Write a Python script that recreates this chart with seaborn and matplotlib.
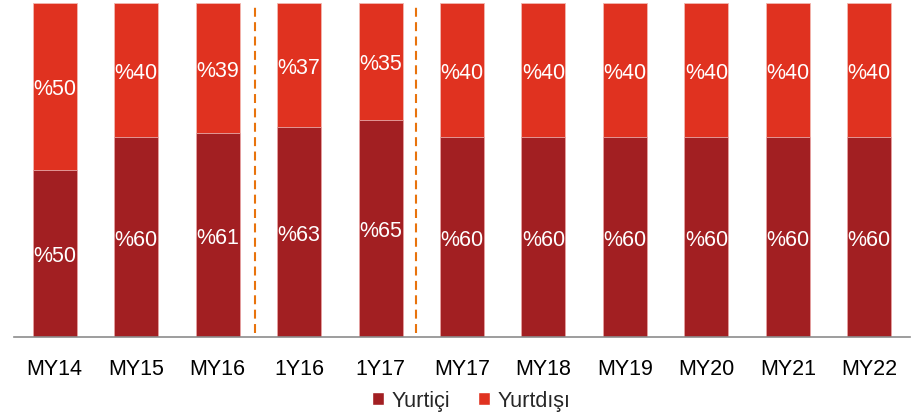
import matplotlib
matplotlib.use("Agg")
import matplotlib.pyplot as plt
from matplotlib.patches import Patch
from matplotlib.ticker import FixedLocator
import seaborn as sns
import pandas as pd

categories = ["MY14", "MY15", "MY16", "1Y16", "1Y17", "MY17", "MY18", "MY19", "MY20", "MY21", "MY22"]
yurtici = [50, 60, 61, 63, 65, 60, 60, 60, 60, 60, 60]
yurtdisi = [50, 40, 39, 37, 35, 40, 40, 40, 40, 40, 40]
series_names = ["Yurtiçi", "Yurtdışı"]

sns.set_theme(style="white")
plt.rcParams["font.family"] = ["Liberation Sans", "DejaVu Sans"]

dark_red = "#A21F22"
bright_red = "#E03220"

df = pd.DataFrame({"kategori": categories, "yurtici": yurtici, "yurtdisi": yurtdisi})
df["toplam"] = df["yurtici"] + df["yurtdisi"]

fig = plt.figure(figsize=(9.17, 4.14), dpi=100)
ax = fig.add_axes([14 / 917, 76 / 414, 896 / 917, 334 / 414])

sns.barplot(data=df, x="kategori", y="toplam", color=bright_red, saturation=1,
            width=0.54, edgecolor="#F2B8B0", linewidth=0.6, ax=ax)
sns.barplot(data=df, x="kategori", y="yurtici", color=dark_red, saturation=1,
            width=0.54, edgecolor="#E8A8A8", linewidth=0.6, ax=ax)

for i, (a, b) in enumerate(zip(yurtici, yurtdisi)):
    ax.text(i, a / 2, f"%{a}", ha="center", va="center_baseline", color="white", fontsize=15.5)
    ax.text(i, a + b / 2, f"%{b}", ha="center", va="center_baseline", color="white", fontsize=15.5)

# period separators
for xpos in (2.46, 4.43):
    ax.plot([xpos, xpos], [1.2, 100], color="#E8730C", linestyle=(0, (4.3, 2.6)),
            linewidth=1.5)

ax.set_xlim(-0.5, len(categories) - 0.5)
ax.set_ylim(0, 100)
ax.set_xlabel("")
ax.set_ylabel("")
ax.set_yticks([])
for side in ("top", "right", "left"):
    ax.spines[side].set_visible(False)
ax.spines["bottom"].set_color("#8C8C8C")
ax.spines["bottom"].set_linewidth(1.2)

ax.tick_params(axis="x", which="major", length=0, labelsize=15.5, colors="black", pad=15)
ax.xaxis.set_minor_locator(FixedLocator([i - 0.5 for i in range(len(categories) + 1)]))
ax.tick_params(axis="x", which="minor", length=6, width=1.2, color="#8C8C8C")

handles = [Patch(facecolor=dark_red, label=series_names[0]),
           Patch(facecolor=bright_red, label=series_names[1])]
fig.legend(handles=handles, loc="center", bbox_to_anchor=(471 / 917, 12 / 414), ncol=2,
           frameon=False, fontsize=15.5, handlelength=0.55, handleheight=0.55,
           handletextpad=0.35, columnspacing=1.3)

fig.savefig("out.png", dpi=100)
